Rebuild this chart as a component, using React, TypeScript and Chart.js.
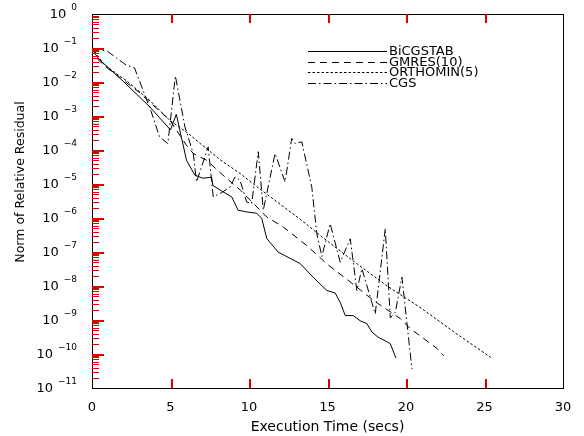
import React, { useEffect, useRef } from "react";
import { Chart, registerables } from "chart.js";

Chart.register(...registerables);

// ---- data ----
const xTickValues = [0, 5, 10, 15, 20, 25, 30];
const yExponents = [0, -1, -2, -3, -4, -5, -6, -7, -8, -9, -10, -11];
const seriesNames = ["BiCGSTAB", "GMRES(10)", "ORTHOMIN(5)", "CGS"];

const bicgTime = [0, 0.24, 0.49, 1.83, 3.68, 5.0, 5.37, 6.02, 6.55, 7.06, 7.62, 7.7, 8.34, 8.9, 9.3, 9.85, 10.49, 10.81, 11.13, 11.85, 12.62, 13.26, 14.08, 14.96, 15.49, 15.81, 16.13, 16.64, 17.08, 17.51, 17.83, 18.23, 18.68, 19.0, 19.36];
const bicgRes = [1e-1, 6.3e-2, 4.47e-2, 1.23e-2, 1.86e-3, 3.89e-4, 1.12e-3, 5.0e-5, 1.82e-5, 1.48e-5, 1.58e-5, 9.1e-6, 5.9e-6, 4.17e-6, 1.7e-6, 1.51e-6, 1.38e-6, 9.8e-7, 2.51e-7, 1.0e-7, 6.5e-8, 4.57e-8, 1.82e-8, 7.4e-9, 6.2e-9, 3.3e-9, 1.35e-9, 1.35e-9, 9.5e-10, 7.8e-10, 4.4e-10, 3.1e-10, 2.45e-10, 2.0e-10, 7.6e-11];

const gmresTime = [0, 0.4, 1.0, 2.0, 3.0, 3.7, 4.3, 5.0, 5.5, 6.0, 6.45, 7.3, 8.34, 9.5, 11.13, 12.19, 13.68, 14.96, 16.5, 18.0, 19.64, 20.27, 21.98, 22.4];
const gmresRes = [1e-1, 4.47e-2, 2.51e-2, 1.12e-2, 5.0e-3, 2.51e-3, 1.41e-3, 7.1e-4, 3.16e-4, 1.41e-4, 7.9e-5, 5.0e-5, 1.82e-5, 6.3e-6, 1.07e-6, 5.4e-7, 1.55e-7, 4.47e-8, 1.26e-8, 3.55e-9, 1.1e-9, 5.6e-10, 1.45e-10, 8.9e-11];

const orthoTime = [0, 0.8, 2.3, 3.7, 5.0, 6.1, 7.0, 8.2, 9.4, 10.7, 12.0, 13.3, 14.5, 16.6, 18.8, 20.9, 23.2, 25.4];
const orthoRes = [1e-1, 3.16e-2, 1e-2, 2.82e-3, 7.1e-4, 3.16e-4, 1.41e-4, 5.0e-5, 2.09e-5, 7.1e-6, 2.51e-6, 8.9e-7, 3.16e-7, 5.6e-8, 1e-8, 2.34e-9, 4.0e-10, 7.9e-11];

const cgsTime = [0, 1.0, 2.17, 2.71, 3.24, 3.77, 4.3, 4.83, 5.31, 5.92, 6.45, 6.66, 7.4, 7.72, 8.15, 8.79, 9.11, 9.43, 9.85, 10.17, 10.59, 10.91, 11.66, 12.3, 12.72, 12.94, 13.36, 14.0, 14.32, 14.64, 15.17, 15.81, 16.45, 16.87, 17.19, 18.04, 18.68, 19.0, 19.32, 19.74, 20.38];
const cgsRes = [1e-1, 7.9e-2, 3.16e-2, 2.57e-2, 5.9e-3, 1.35e-3, 2.45e-4, 1.55e-4, 1.51e-2, 4.8e-4, 7.9e-5, 1.15e-5, 1.23e-4, 4.17e-6, 5.2e-6, 8.1e-6, 1.62e-5, 1.29e-5, 2.95e-6, 2.63e-6, 8.9e-5, 1.7e-6, 7.9e-5, 1.15e-5, 2.19e-4, 1.55e-4, 1.74e-4, 8.1e-6, 3.47e-7, 7.4e-8, 6.8e-7, 5.0e-8, 2.45e-7, 7.4e-9, 3.24e-8, 1.51e-9, 4.9e-7, 1.15e-9, 1.7e-9, 1.82e-8, 3.6e-11];

const seriesTimes = [bicgTime, gmresTime, orthoTime, cgsTime];
const seriesValues = [bicgRes, gmresRes, orthoRes, cgsRes];
const seriesDash: number[][] = [[], [7, 5], [2.5, 2], [8, 3, 1.5, 3]];

const FONT = '"DejaVu Sans", "Liberation Sans", sans-serif';

function drawFrameAndTicks(chart: any) {
  const { ctx, chartArea: a, scales } = chart;
  const xs = scales.x;
  const ys = scales.y;
  ctx.save();
  ctx.setLineDash([]);
  ctx.globalAlpha = 1;
  ctx.strokeStyle = "#000";
  ctx.fillStyle = "#000";
  ctx.lineWidth = 1;
  const L = Math.round(a.left);
  const R = Math.round(a.right);
  const T = Math.round(a.top);
  const B = Math.round(a.bottom);
  ctx.strokeRect(L + 0.5, T + 0.5, R - L, B - T);
  ctx.fillStyle = "#d00";
  xTickValues.forEach((v) => {
    if (v === 0 || v === 30) return;
    const px = Math.round(xs.getPixelForValue(v));
    ctx.fillRect(px, B - 9, 2, 9);
    ctx.fillRect(px, T, 2, 9);
  });
  yExponents.forEach((e) => {
    const py = Math.round(ys.getPixelForValue(Math.pow(10, e)));
    if (e < 0 && e > -11) ctx.fillRect(L, py, 12, 2);
    if (e < 0) {
      for (let m = 2; m <= 9; m++) {
        const my = Math.round(ys.getPixelForValue(m * Math.pow(10, e)));
        ctx.fillRect(L, my, 7, 1);
      }
    }
  });
  ctx.restore();
}

const textPlugin = {
  id: "texts",
  afterDraw(chart: any) {
    const { ctx, chartArea: a, scales } = chart;
    const xs = scales.x;
    const ys = scales.y;
    ctx.save();
    ctx.setLineDash([]);
    ctx.strokeStyle = "#000";
    ctx.fillStyle = "#000";
    ctx.lineWidth = 1;

    ctx.font = `13px ${FONT}`;
    ctx.textAlign = "center";
    ctx.textBaseline = "middle";
    xTickValues.forEach((v) => {
      ctx.fillText(String(v), xs.getPixelForValue(v), 408);
    });
    ctx.font = `14px ${FONT}`;
    ctx.fillText("Execution Time (secs)", (a.left + a.right) / 2, 427);

    yExponents.forEach((e) => {
      const py = ys.getPixelForValue(Math.pow(10, e));
      const expText = e === 0 ? "0" : "\u2212" + String(-e);
      ctx.font = `9px ${FONT}`;
      const we = ctx.measureText(expText).width;
      const baseRight = 77 - we - 5;
      ctx.textAlign = "left";
      ctx.textBaseline = "middle";
      ctx.fillText(expText, baseRight + 5, py - 6);
      ctx.font = `13px ${FONT}`;
      ctx.textAlign = "right";
      ctx.fillText("10", baseRight, py + 1);
    });

    ctx.save();
    ctx.translate(21, 182);
    ctx.rotate(-Math.PI / 2);
    ctx.font = `12.5px ${FONT}`;
    ctx.textAlign = "center";
    ctx.textBaseline = "middle";
    ctx.fillText("Norm of Relative Residual", 0, 0);
    ctx.restore();

    const rows = [50.7, 61.7, 72.3, 83.3];
    ctx.font = `13px ${FONT}`;
    ctx.textAlign = "left";
    ctx.textBaseline = "middle";
    seriesNames.forEach((name, i) => {
      const y = Math.round(rows[i]) + 0.5;
      ctx.setLineDash(seriesDash[i]);
      ctx.beginPath();
      ctx.moveTo(308, y);
      ctx.lineTo(387, y);
      ctx.stroke();
      ctx.setLineDash([]);
      ctx.fillText(name, 389, rows[i] + 0.5);
    });
    ctx.restore();

    drawFrameAndTicks(chart);
  },
};

export default function App() {
  const canvasRef = useRef<HTMLCanvasElement | null>(null);

  useEffect(() => {
    const canvas = canvasRef.current;
    if (!canvas) return;
    const datasets = seriesNames.map((name, i) => ({
      label: name,
      data: seriesTimes[i].map((t, j) => ({ x: t, y: seriesValues[i][j] })),
      borderColor: "#000",
      borderWidth: 1,
      borderDash: seriesDash[i],
      pointRadius: 0,
      fill: false,
      tension: 0,
    }));
    const chart = new Chart(canvas, {
      type: "line",
      data: { datasets },
      options: {
        animation: false,
        responsive: false,
        devicePixelRatio: 1,
        events: [],
        layout: { padding: { top: 14, right: 21, left: 0, bottom: 0 } },
        plugins: { legend: { display: false }, tooltip: { enabled: false } },
        scales: {
          x: {
            type: "linear",
            min: 0,
            max: 30,
            ticks: { display: false },
            grid: { display: false },
            border: { display: false },
            afterFit: (s: any) => {
              s.height = 48;
            },
          },
          y: {
            type: "logarithmic",
            min: 1e-11,
            max: 1,
            ticks: { display: false },
            grid: { display: false },
            border: { display: false },
            afterFit: (s: any) => {
              s.width = 92;
            },
          },
        },
      } as any,
      plugins: [textPlugin],
    });
    return () => chart.destroy();
  }, []);

  return (
    <div style={{ position: "absolute", left: 0, top: 0, width: 584, height: 436, background: "#fff" }}>
      <canvas ref={canvasRef} width={584} height={436} style={{ width: 584, height: 436, display: "block" }} />
    </div>
  );
}
